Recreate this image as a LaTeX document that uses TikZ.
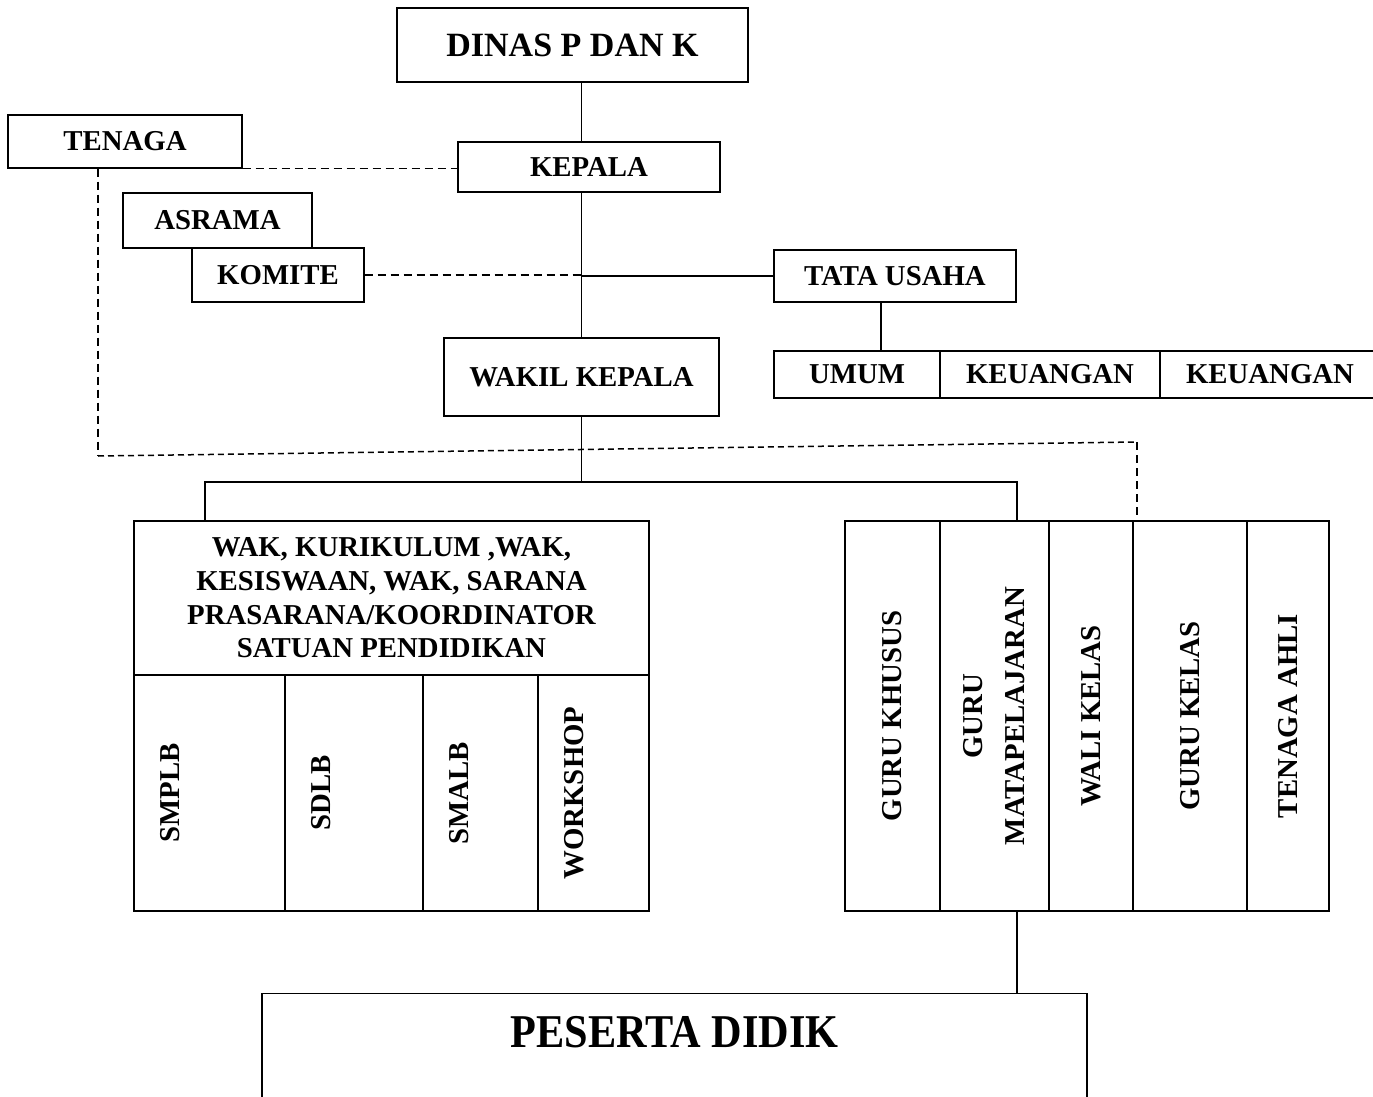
\documentclass[tikz,border=0pt]{standalone}
\usepackage{fontspec}
\setmainfont{Liberation Serif}
\usepackage{graphicx}
\usetikzlibrary{positioning, calc}

\begin{document}
\begin{tikzpicture}[x=1pt, y=-1pt,
    box/.style={draw, line width=1.2pt, inner sep=0pt, align=center,
        font=\fontsize{28.8}{33.7}\selectfont\bfseries},
    vbox/.style={box, rotate=90, font=\fontsize{28.8}{42}\selectfont\bfseries},
    vtext/.style={rotate=90, inner sep=0pt, font=\fontsize{28.8}{33.7}\selectfont\bfseries},
    link/.style={line width=1.5pt},
    dlink/.style={line width=1.5pt, dash pattern=on 8pt off 5pt},
]
    \useasboundingbox (0,0) rectangle (1373,1097);
    \clip (0,0) rectangle (1373,1097);

    % puncak struktur
    \node[box, minimum width=351pt, minimum height=74pt,
        font=\fontsize{34}{40}\selectfont\bfseries] (dinas) at (572.5,45) {DINAS P DAN K};
    \node[box, minimum width=262pt, minimum height=50pt] (kepala) at (589,167) {KEPALA};
    \node[box, minimum width=234pt, minimum height=53pt] (tenaga) at (125,141.5) {TENAGA};
    \node[box, minimum width=189pt, minimum height=55pt] (asrama) at (217.5,220.5) {ASRAMA};
    \node[box, minimum width=172pt, minimum height=54pt] (komite) at (278,275) {KOMITE};
    \node[box, minimum width=242pt, minimum height=52pt] (tu) at (895,276) {TATA USAHA};
    \node[box, minimum width=275pt, minimum height=78pt] (wakil) at (581.5,377) {WAKIL KEPALA};

    % bagian tata usaha
    \node[box, minimum width=166pt, minimum height=47pt] (umum) at (857,374.5) {UMUM};
    \node[box, minimum width=220pt, minimum height=47pt] (keu1) at (1050,374.5) {KEUANGAN};
    \node[box, minimum width=220pt, minimum height=47pt] (keu2) at (1270,374.5) {KEUANGAN};

    % kelompok kiri
    \node[box, minimum width=515pt, minimum height=154pt] (wak) at (391.5,598)
        {WAK, KURIKULUM ,WAK,\\ KESISWAAN, WAK, SARANA\\ PRASARANA/KOORDINATOR\\ SATUAN PENDIDIKAN};
    \node[box, minimum width=151pt, minimum height=236pt] (smplb) at (209.5,793) {};
    \node[box, minimum width=138pt, minimum height=236pt] (sdlb) at (354,793) {};
    \node[box, minimum width=115pt, minimum height=236pt] (smalb) at (480.5,793) {};
    \node[box, minimum width=111pt, minimum height=236pt] (workshop) at (593.5,793) {};
    \node[vtext] at ($(smplb.west)+(37,0)$) {SMPLB};
    \node[vtext] at ($(sdlb.west)+(37,0)$) {SDLB};
    \node[vtext] at ($(smalb.west)+(37,0)$) {SMALB};
    \node[vtext] at ($(workshop.west)+(37,0)$) {WORKSHOP};

    % kelompok kanan (node diputar: east = atas, west = bawah)
    \node[vbox, minimum width=390pt, minimum height=95pt] (khusus) at (892.5,716) {GURU KHUSUS};
    \node[vbox, minimum width=390pt, minimum height=109pt] (mapel) at (994.5,716) {GURU\\ MATAPELAJARAN};
    \node[vbox, minimum width=390pt, minimum height=84pt] (wali) at (1091,716) {WALI KELAS};
    \node[vbox, minimum width=390pt, minimum height=114pt] (kelas) at (1190,716) {GURU KELAS};
    \node[vbox, minimum width=390pt, minimum height=82pt] (ahli) at (1288,716) {TENAGA AHLI};

    % peserta didik
    \node[box, anchor=north, minimum width=825pt, text height=54pt, text depth=70pt, inner ysep=0pt]
        (peserta) at (674.5,993) {\fontsize{47}{50}\selectfont\scalebox{0.9}[1]{PESERTA DIDIK}};

    % garis komando
    \draw[link] (dinas.south -| wakil.north) -- (kepala.north -| wakil.north);
    \draw[link] (kepala.south -| wakil.north) -- (wakil.north);
    \draw[link] (tu.west -| wakil.north) -- (tu.west);
    \draw[link] ([xshift=-14pt]tu.south) -- ([xshift=-14pt]tu.south |- umum.north);

    \coordinate (bl) at (205,482);
    \coordinate (br) at (1017,482);
    \draw[link] (wakil.south) -- (wakil.south |- bl);
    \draw[link] (bl |- wak.north) -- (bl) -- (br) -- (br |- mapel.east);
    \draw[link] (br |- mapel.west) -- (br |- peserta.north);

    % garis koordinasi
    \draw[dlink] (komite.east) -- (komite.east -| wakil.north);
    \draw[dlink] (tenaga.south east) -- (tenaga.south east -| kepala.west);
    \coordinate (tl) at (98,456);
    \coordinate (tr) at (1137,442);
    \draw[dlink] (tenaga.south -| tl) -- (tl);
    \draw[dlink, dash pattern=on 6pt off 4pt] (tl) -- (tr);
    \draw[dlink] (tr) -- (tr |- kelas.east);
\end{tikzpicture}
\end{document}
